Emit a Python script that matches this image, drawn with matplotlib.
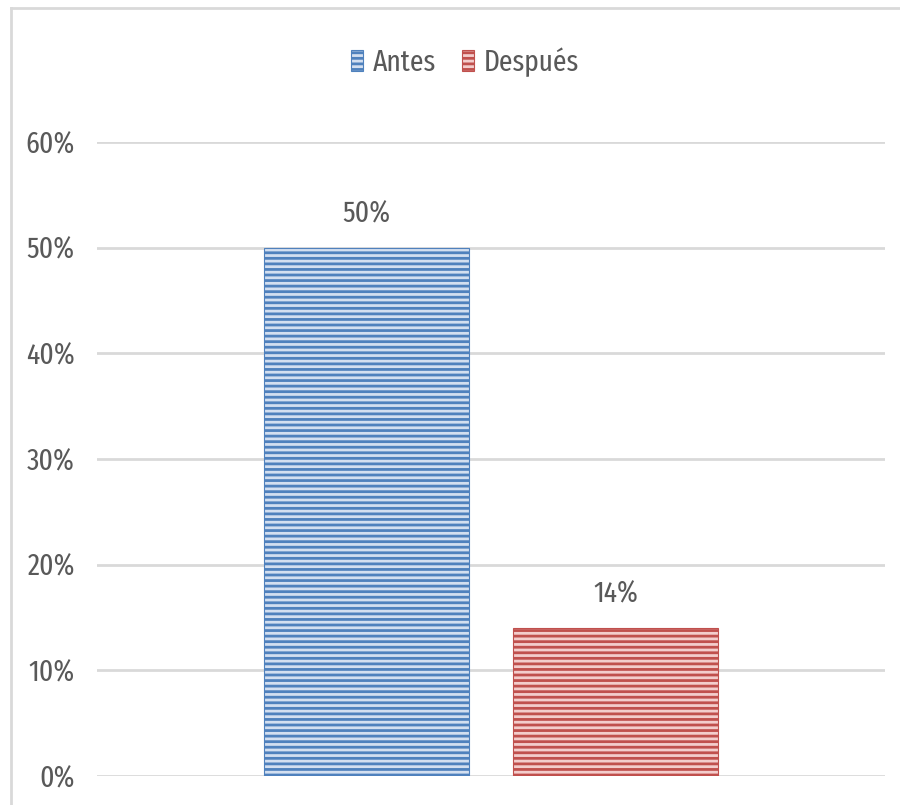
import matplotlib
matplotlib.use("Agg")
import matplotlib.pyplot as plt
from matplotlib.lines import Line2D
from matplotlib.patches import Patch
from matplotlib.ticker import FuncFormatter
from matplotlib import font_manager

series = ["Antes", "Después"]
values = [0.50, 0.14]
value_labels = ["50%", "14%"]
y_ticks = [0.0, 0.1, 0.2, 0.3, 0.4, 0.5, 0.6]

dark = ["#4F81BD", "#C0504D"]
light = ["#D3DFF0", "#F3CDCC"]
grid_color = "#D9D9D9"
text_color = "#595959"


def has_regular_face(name):
    for f in font_manager.fontManager.ttflist:
        if f.name == name:
            w = f.weight
            if isinstance(w, str):
                w = font_manager.weight_dict.get(w, 400)
            if w == 400:
                return True
    return False


# narrow sans if one is available, plain sans otherwise
family, fs = "Liberation Sans", 16
for cand in ["Fira Sans Extra Condensed", "PT Sans Narrow", "Roboto Condensed",
             "Archivo Narrow"]:
    if has_regular_face(cand):
        family, fs = cand, 21.5
        break
plt.rcParams["font.family"] = [family, "DejaVu Sans"]
plt.rcParams["font.weight"] = "normal"
plt.rcParams["hatch.linewidth"] = 2.0

W, H = 900, 805
fig = plt.figure(figsize=(W / 100, H / 100), dpi=100)
ax = fig.add_axes([97 / W, 29 / H, 788 / W, 634 / H])

width = 0.259
offsets = [-0.158, 0.158]
for i, name in enumerate(series):
    ax.bar(offsets[i], values[i], width, color=light[i], edgecolor=dark[i],
           linewidth=0.8, hatch="---", label=name, zorder=3)
    ax.annotate(value_labels[i], (offsets[i], values[i]), textcoords="offset pixels",
                xytext=(0, 34), ha="center", va="center", fontsize=fs,
                color=text_color)

ax.set_xlim(-0.5, 0.5)
ax.set_ylim(0, 0.6)
ax.set_yticks(y_ticks)
ax.yaxis.set_major_formatter(FuncFormatter(lambda v, _: f"{v * 100:.0f}%"))
ax.set_xticks([])
ax.tick_params(axis="y", length=0, pad=16, labelsize=fs, labelcolor=text_color)
ax.grid(True, axis="y", color=grid_color, linewidth=2, zorder=0)
ax.set_axisbelow(True)
for s in ax.spines.values():
    s.set_visible(False)

handles = [Patch(facecolor=light[i], edgecolor=dark[i], hatch="---", linewidth=0.8)
           for i in range(len(series))]
fig.legend(handles, series, loc="center", bbox_to_anchor=(465 / W, 1 - 62 / H),
           ncol=2, frameon=False, fontsize=fs, labelcolor=text_color,
           handlelength=0.4, handleheight=0.7, handletextpad=0.3,
           columnspacing=0.9)

# outer chart frame (only top and left edges are visible)
fig.add_artist(Line2D([11 / W, 1.0], [1 - 8 / H, 1 - 8 / H], color=grid_color,
                      linewidth=2, transform=fig.transFigure))
fig.add_artist(Line2D([11 / W, 11 / W], [0.0, 1 - 8 / H], color=grid_color,
                      linewidth=2, transform=fig.transFigure))

fig.savefig("out.png", dpi=100)
